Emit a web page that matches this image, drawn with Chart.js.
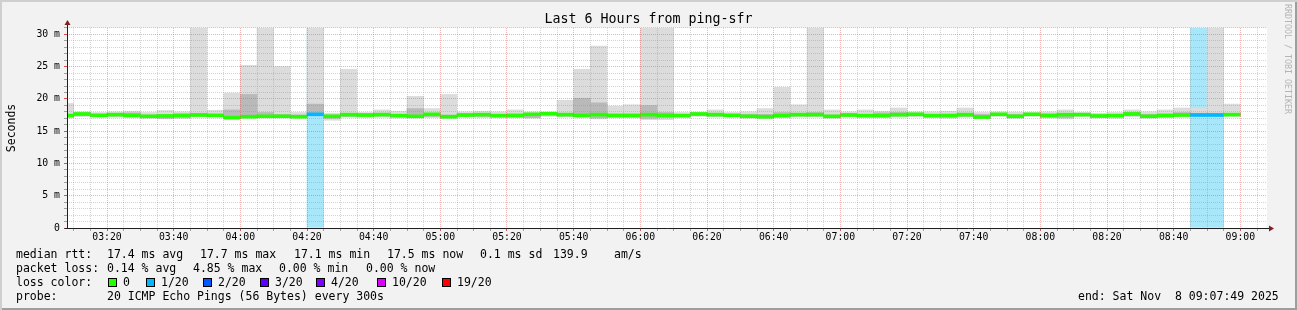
<!DOCTYPE html>
<html>
<head>
<meta charset="utf-8">
<script src="https://cdn.jsdelivr.net/npm/chart.js@4.4.1/dist/chart.umd.min.js"></script>
<style>
  html, body { margin: 0; padding: 0; background: #f2f2f2; }
  #wrap {
    position: relative; width: 1297px; height: 310px; background: #f2f2f2;
    box-shadow: inset 2px 2px 0 #cfcfcf, inset -2px -2px 0 #9e9e9e;
    overflow: hidden;
  }
  #chart { position: absolute; left: 0; top: 0; }
  .t {
    position: absolute; font-family: 'DejaVu Sans Mono', monospace; font-size: 11.5px;
    line-height: 14px; color: #000; white-space: pre;
  }
  .box { position: absolute; width: 7px; height: 7px; border: 1px solid #000; top: 278px; }
  #credit {
    position: absolute; left: 1283px; top: 4px; font-family: 'DejaVu Sans Mono', monospace;
    font-size: 8.3px; color: #b4b4b4; writing-mode: vertical-rl; white-space: pre; line-height: 9px;
  }
</style>
</head>
<body>
<div id="wrap">
  <canvas id="chart" width="1297" height="310"></canvas>
  <div id="credit">RRDTOOL / TOBI OETIKER</div>
  <div id="legend"></div>
</div>
<script>
/* ============================================
   DATA (ms)
============================================ */
// 5 minute intervals, start time of each
const times = [
    '03:05', '03:10', '03:15', '03:20', '03:25', '03:30', '03:35', '03:40', '03:45', '03:50', '03:55',
    '04:00', '04:05', '04:10', '04:15', '04:20', '04:25', '04:30', '04:35', '04:40', '04:45', '04:50', '04:55',
    '05:00', '05:05', '05:10', '05:15', '05:20', '05:25', '05:30', '05:35', '05:40', '05:45', '05:50', '05:55',
    '06:00', '06:05', '06:10', '06:15', '06:20', '06:25', '06:30', '06:35', '06:40', '06:45', '06:50', '06:55',
    '07:00', '07:05', '07:10', '07:15', '07:20', '07:25', '07:30', '07:35', '07:40', '07:45', '07:50', '07:55',
    '08:00', '08:05', '08:10', '08:15', '08:20', '08:25', '08:30', '08:35', '08:40', '08:45', '08:50', '08:55'
];

const median = [
    17.41, 17.67, 17.46, 17.57, 17.46, 17.31, 17.36, 17.46, 17.51, 17.46, 17.10,
    17.25, 17.31, 17.31, 17.25, 17.62, 17.31, 17.57, 17.51, 17.57, 17.41, 17.31, 17.62,
    17.25, 17.51, 17.57, 17.41, 17.41, 17.62, 17.72, 17.57, 17.46, 17.57, 17.41, 17.41,
    17.57, 17.46, 17.41, 17.67, 17.57, 17.46, 17.31, 17.25, 17.41, 17.57, 17.57, 17.31,
    17.51, 17.41, 17.41, 17.57, 17.62, 17.41, 17.41, 17.57, 17.20, 17.62, 17.31, 17.62,
    17.41, 17.57, 17.57, 17.36, 17.41, 17.67, 17.31, 17.41, 17.51, 17.51, 17.51, 17.57
];

// smoke: slowest ping of the interval
const pingMax = [
    19.3, 18.0, 17.9, 18.0, 18.1, 17.9, 18.2, 18.0, 32, 18.25, 20.9,
    25.2, 32, 25.0, 17.9, 32, 17.8, 24.6, 17.9, 18.3, 18.1, 20.4, 18.5,
    20.7, 18.0, 18.1, 18.0, 18.3, 18.0, 17.9, 19.8, 24.6, 28.2, 18.9, 19.1,
    32, 32, 17.9, 17.9, 18.3, 17.9, 18.0, 18.5, 21.8, 19.1, 32, 18.3,
    18.0, 18.3, 18.1, 18.6, 18.0, 18.0, 18.1, 18.6, 17.9, 18.0, 17.95, 17.9,
    18.0, 18.3, 17.9, 17.8, 17.9, 18.3, 18.0, 18.3, 18.6, 18.6, 32, 19.2
];

// smoke: upper edge of the denser middle pings
const pingHigh = [
    17.65, 17.8, 17.6, 17.75, 17.85, 17.5, 17.55, 17.6, 17.8, 17.6, 18.3,
    20.7, 17.9, 17.6, 17.5, 19.2, 17.5, 17.75, 17.7, 17.8, 17.6, 18.5, 17.8,
    17.5, 17.7, 17.75, 17.6, 17.7, 17.75, 17.85, 17.8, 20.1, 19.4, 17.7, 17.7,
    19.0, 17.9, 17.6, 17.8, 17.8, 17.6, 17.6, 17.6, 17.9, 17.8, 17.9, 17.5,
    17.7, 17.6, 17.85, 17.9, 17.8, 17.6, 17.65, 17.8, 17.6, 17.75, 17.6, 17.75,
    17.7, 17.75, 17.7, 17.55, 17.6, 17.9, 17.6, 17.7, 17.9, 17.8, 17.8, 17.75
];

// smoke: lower edge of the denser middle pings
const pingLow = [
    17.3, 17.45, 17.3, 17.35, 17.3, 17.15, 17.0, 17.1, 17.35, 17.3, 17.0,
    17.1, 17.2, 17.2, 17.15, 17.55, 17.0, 17.3, 17.3, 17.35, 17.25, 17.2, 17.3,
    17.1, 17.3, 17.3, 17.25, 17.25, 17.1, 17.5, 17.35, 17.25, 17.05, 17.25, 17.25,
    17.0, 17.1, 17.25, 17.45, 17.35, 17.3, 17.15, 17.05, 17.25, 17.35, 17.35, 17.15,
    17.35, 17.25, 17.25, 17.35, 17.4, 17.2, 17.2, 17.3, 17.1, 17.45, 17.1, 17.45,
    17.2, 17.1, 17.4, 17.15, 17.2, 17.4, 17.15, 17.25, 17.35, 17.4, 17.4, 17.4
];

// smoke: fastest ping of the interval
const pingMin = [
    17.05, 17.25, 17.2, 17.15, 17.1, 17.0, 16.9, 16.95, 17.2, 17.2, 16.95,
    17.05, 17.1, 17.1, 17.05, 17.5, 16.7, 17.15, 17.1, 17.15, 17.05, 17.05, 17.1,
    17.0, 17.15, 17.1, 17.1, 17.1, 17.0, 17.3, 17.2, 17.1, 16.9, 17.1, 17.1,
    16.8, 16.8, 17.15, 17.3, 17.2, 17.2, 17.05, 17.0, 17.1, 17.2, 17.2, 17.0,
    17.2, 17.1, 17.1, 17.15, 17.2, 17.1, 17.0, 17.15, 17.0, 17.3, 17.0, 17.3,
    17.05, 16.9, 17.25, 17.05, 17.0, 17.2, 17.05, 17.1, 17.2, 17.3, 17.3, 17.3
];

// lost pings out of 20
const lossCount = [
    0, 0, 0, 0, 0, 0, 0, 0, 0, 0, 0,
    0, 0, 0, 0, 1, 0, 0, 0, 0, 0, 0, 0,
    0, 0, 0, 0, 0, 0, 0, 0, 0, 0, 0, 0,
    0, 0, 0, 0, 0, 0, 0, 0, 0, 0, 0, 0,
    0, 0, 0, 0, 0, 0, 0, 0, 0, 0, 0, 0,
    0, 0, 0, 0, 0, 0, 0, 0, 0, 1, 1, 0
];

const lossLabels = ['0', '1/20', '2/20', '3/20', '4/20', '10/20', '19/20'];
const lossSteps = [0, 1, 2, 3, 4, 10, 19];
const lossColors = ['#26ff00', '#00b8ff', '#0059ff', '#5e00ff', '#7e00ff', '#dd00ff', '#ff0000'];

const xTickLabels = ['03:20', '03:40', '04:00', '04:20', '04:40', '05:00', '05:20', '05:40', '06:00',
    '06:20', '06:40', '07:00', '07:20', '07:40', '08:00', '08:20', '08:40', '09:00'];
const yTickLabels = ['0', '5 m', '10 m', '15 m', '20 m', '25 m', '30 m'];

/* ============================================
   HELPERS
============================================ */
const MONO = "'DejaVu Sans Mono', monospace";
const GRID = 'rgba(143,143,143,0.38)';
const MGRID = 'rgba(222,79,79,0.45)';

function toMin(s) {
    const p = s.split(':');
    return parseInt(p[0], 10) * 60 + parseInt(p[1], 10);
}
function hhmm(v) {
    const h = Math.floor(v / 60), m = Math.round(v % 60);
    return String(h).padStart(2, '0') + ':' + String(m).padStart(2, '0');
}
function lossColor(n) {
    let c = lossColors[0];
    lossSteps.forEach((s, i) => { if (n >= s) c = lossColors[i]; });
    return c;
}

const xStart = toMin('03:08');
const xEnd = toMin('09:08');
const yTop = 31;

function band(lo, hi) {
    return times.map((t, i) => ({ x: toMin(t) + 2.5, y: [lo[i], hi[i]] }));
}

/* ============================================
   FRAME PLUGIN (canvas, axis, arrows)
============================================ */
const rrdFrame = {
    id: 'rrdFrame',
    beforeDraw(chart) {
        const { ctx, chartArea: a } = chart;
        ctx.save();
        ctx.fillStyle = '#ffffff';
        ctx.fillRect(a.left, a.top, a.right - a.left, a.bottom - a.top);
        ctx.restore();
    },
    afterDraw(chart) {
        const { ctx, chartArea: a } = chart;
        const x0 = Math.round(a.left) + 0.5, y0 = Math.round(a.bottom) + 0.5;
        ctx.save();
        ctx.strokeStyle = '#1f1f1f';
        ctx.lineWidth = 1;
        ctx.beginPath();
        ctx.moveTo(x0, y0);
        ctx.lineTo(x0, a.top - 4);
        ctx.moveTo(x0 - 3, y0);
        ctx.lineTo(a.right + 3, y0);
        ctx.stroke();
        ctx.fillStyle = '#801f1f';
        ctx.beginPath();
        ctx.moveTo(x0 - 3, a.top - 3);
        ctx.lineTo(x0 + 3, a.top - 3);
        ctx.lineTo(x0, a.top - 8);
        ctx.closePath();
        ctx.fill();
        ctx.beginPath();
        ctx.moveTo(a.right + 2, y0 - 3);
        ctx.lineTo(a.right + 2, y0 + 3);
        ctx.lineTo(a.right + 7, y0);
        ctx.closePath();
        ctx.fill();
        ctx.restore();
    }
};

/* ============================================
   CHART
============================================ */
function initChart() {
    const canvas = document.getElementById('chart');

    const lossBg = times.map((t, i) => ({ x: toMin(t) + 2.5, y: lossCount[i] > 0 ? [0, yTop] : null }));
    const medianBand = times.map((t, i) => ({ x: toMin(t) + 2.5, y: [median[i] - 0.23, median[i] + 0.23] }));

    const barOpts = { barPercentage: 1, categoryPercentage: 1, borderWidth: 0, clip: 0 };

    new Chart(canvas.getContext('2d'), {
        type: 'bar',
        data: {
            datasets: [
                Object.assign({ label: 'loss', data: lossBg, backgroundColor: '#a8e6fa', order: 4 }, barOpts),
                Object.assign({ label: 'smoke', data: band(pingMin, pingMax), backgroundColor: '#dcdcdc', order: 3 }, barOpts),
                Object.assign({ label: 'smoke mid', data: band(pingLow, pingHigh), backgroundColor: '#b9b9b9', order: 2 }, barOpts),
                Object.assign({
                    label: 'median rtt', data: medianBand, order: 1,
                    backgroundColor: times.map((t, i) => lossColor(lossCount[i]))
                }, barOpts)
            ]
        },
        options: {
            responsive: false,
            animation: false,
            events: [],
            datasets: { bar: { grouped: false } },
            layout: { padding: 0 },
            plugins: {
                legend: { display: false },
                tooltip: { enabled: false },
                title: {
                    display: true,
                    text: 'Last 6 Hours from ping-sfr',
                    color: '#000',
                    font: { family: MONO, size: 13.3, weight: 'normal', lineHeight: 1.2 },
                    padding: { top: 12, bottom: 0 }
                }
            },
            scales: {
                x: {
                    type: 'linear',
                    min: xStart,
                    max: xEnd,
                    offset: false,
                    afterBuildTicks: s => {
                        const t = [];
                        for (let v = toMin('03:10'); v < xEnd; v += 5) t.push({ value: v });
                        s.ticks = t;
                    },
                    afterFit: s => { s.height = 82; },
                    ticks: {
                        autoSkip: false,
                        maxRotation: 0,
                        minRotation: 0,
                        padding: 1,
                        color: '#000',
                        font: { family: MONO, size: 9.8 },
                        callback: v => {
                            const s = hhmm(v);
                            return xTickLabels.includes(s) ? s : '';
                        }
                    },
                    grid: {
                        offset: false,
                        z: 1,
                        tickLength: 3,
                        color: ctx => (ctx.tick && xTickLabels.includes(hhmm(ctx.tick.value))) ? MGRID : GRID,
                        tickColor: ctx => (ctx.tick && xTickLabels.includes(hhmm(ctx.tick.value))) ? '#de4f4f' : '#a0a0a0'
                    },
                    border: { display: false, dash: [1, 1] }
                },
                y: {
                    min: 0,
                    max: yTop,
                    afterBuildTicks: s => {
                        const t = [];
                        for (let v = 0; v <= yTop; v++) t.push({ value: v });
                        s.ticks = t;
                    },
                    afterFit: s => { s.width = 67; },
                    ticks: {
                        autoSkip: false,
                        padding: 4,
                        color: '#000',
                        font: { family: MONO, size: 9.8 },
                        callback: v => (v % 5 === 0 ? yTickLabels[v / 5] : '')
                    },
                    title: {
                        display: true,
                        text: 'Seconds',
                        color: '#000',
                        font: { family: MONO, size: 11.5 },
                        padding: { top: 5, bottom: 0 }
                    },
                    grid: {
                        z: 1,
                        tickLength: 3,
                        color: ctx => (ctx.tick && ctx.tick.value % 5 === 0 && ctx.tick.value > 0) ? MGRID : GRID,
                        tickColor: ctx => (ctx.tick && ctx.tick.value % 5 === 0) ? '#de4f4f' : '#a0a0a0'
                    },
                    border: { display: false, dash: [1, 1] }
                },
                // empty right gutter so the title stays centred on the whole image
                gutter: {
                    axis: 'y',
                    position: 'right',
                    display: true,
                    afterFit: s => { s.width = 30; },
                    ticks: { display: false },
                    grid: { display: false, drawTicks: false },
                    border: { display: false }
                }
            }
        },
        plugins: [rrdFrame]
    });
}

/* ============================================
   LEGEND (rrdtool style text block)
============================================ */
function initLegend() {
    const host = document.getElementById('legend');
    const put = (text, x, y) => {
        const el = document.createElement('div');
        el.className = 't';
        el.style.left = x + 'px';
        el.style.top = y + 'px';
        el.textContent = text;
        host.appendChild(el);
    };

    put('median rtt:', 16, 247);
    put('17.4 ms avg', 107, 247);
    put('17.7 ms max', 200, 247);
    put('17.1 ms min', 294, 247);
    put('17.5 ms now', 387, 247);
    put('0.1 ms sd', 480, 247);
    put('139.9', 553, 247);
    put('am/s', 614, 247);

    put('packet loss:', 16, 261);
    put('0.14 % avg', 107, 261);
    put('4.85 % max', 193, 261);
    put('0.00 % min', 279, 261);
    put('0.00 % now', 366, 261);

    put('loss color:', 16, 275);
    const boxX = [108, 146, 203, 260, 316, 377, 442];
    lossLabels.forEach((lab, i) => {
        const b = document.createElement('div');
        b.className = 'box';
        b.style.left = boxX[i] + 'px';
        b.style.background = lossColors[i];
        host.appendChild(b);
        put(lab, boxX[i] + 15, 275);
    });

    put('probe:', 16, 289);
    put('20 ICMP Echo Pings (56 Bytes) every 300s', 107, 289);
    put('end: Sat Nov  8 09:07:49 2025', 1078, 289);
}

document.addEventListener('DOMContentLoaded', () => {
    initChart();
    initLegend();
});
</script>
</body>
</html>
